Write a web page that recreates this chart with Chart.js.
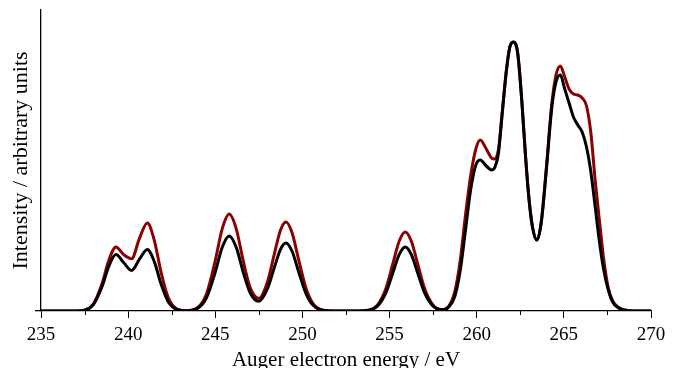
<!DOCTYPE html>
<html>
<head>
<meta charset="utf-8">
<script src="https://cdn.jsdelivr.net/npm/chart.js@4.4.1/dist/chart.umd.min.js"></script>
<style>
  html, body { margin: 0; padding: 0; background: #fff; }
  #wrap { width: 680px; height: 368px; }
</style>
</head>
<body>
<div id="wrap"><canvas id="c" width="680" height="368"></canvas></div>
<script>
// ── DATA (intensity in arbitrary units, 0 = baseline) ──
const energy = [235, 236, 237, 237.5, 238, 238.5, 238.9, 239.3, 239.75, 240.2, 240.65, 241.1, 241.5, 241.9, 242.3, 242.8, 243.3,
  244, 244.5, 245, 245.4, 245.8, 246.2, 246.6, 247, 247.5, 248, 248.4, 248.75, 249.05, 249.4, 249.8, 250.2, 250.6, 251.2,
  252, 253, 253.8, 254.3, 254.8, 255.2, 255.55, 255.9, 256.25, 256.6, 257, 257.5, 258, 258.4, 258.75, 259.05, 259.35,
  259.65, 259.95, 260.2, 260.55, 260.85, 261.05, 261.25, 261.45, 261.7, 261.9, 262.1, 262.35, 262.6, 262.8, 263, 263.2,
  263.45, 263.7, 264, 264.3, 264.55, 264.8, 265.05, 265.3, 265.55, 265.8, 266.05, 266.3, 266.55, 266.8, 267.05, 267.3,
  267.55, 267.8, 268.1, 268.5, 269, 270];

const blackSpec = [0, 0, 0.1, 0.8, 6.2, 24.2, 45.2, 56.4, 48.2, 40.6, 51.8, 61.5, 49.4, 26.4, 9.3, 1.4, 0.2,
  2.8, 13.4, 39, 63.7, 75, 63.7, 39, 18.3, 9.7, 22.6, 44.2, 62, 68, 60, 38.3, 17.6, 5.9, 0.6,
  0, 0, 0.7, 4.7, 18.6, 38.8, 56.4, 64, 56.4, 38.8, 18.6, 4.7, 1.2, 4, 15, 40, 80,
  121, 146, 151, 145, 141, 144, 158, 195, 240, 264, 269, 258, 207, 155, 112, 84,
  71, 88, 142, 202, 229, 236, 222, 208, 194, 186, 179, 164, 139, 104, 68, 40,
  21, 9, 3.5, 0.8, 0, 0];

const redSpec = [0, 0, 0.1, 0.9, 7, 27.3, 51.1, 64, 56.3, 52.3, 72.7, 88, 70.7, 37.9, 13.4, 2, 0.3,
  3.6, 17.3, 50.4, 82.4, 97, 82.4, 50.4, 23.5, 12.7, 29.6, 57.9, 81.2, 89, 78.5, 50.1, 23.1, 7.7, 0.8,
  0, 0, 0.9, 5.8, 23, 48, 69.7, 79, 69.7, 48, 23, 5.8, 1.5, 5, 20, 50, 95,
  135, 162, 171, 162, 153, 152, 162, 196, 240, 264, 269, 258, 207, 155, 112, 84,
  71, 89, 144, 206, 236, 245, 234, 222, 217, 216, 213, 205, 178, 130, 89, 50,
  23, 10, 4, 1, 0, 0];

const majorTicks = [235, 240, 245, 250, 255, 260, 265, 270];
const minorTicks = [237.5, 242.5, 247.5, 252.5, 257.5, 262.5, 267.5];

const SERIF = "'Liberation Serif', 'Times New Roman', serif";

// short ticks between the labelled ones
const minorTickPlugin = {
  id: 'minorTicks',
  afterDraw(chart) {
    const s = chart.scales.x, ctx = chart.ctx;
    ctx.save();
    ctx.strokeStyle = '#000'; ctx.lineWidth = 1;
    minorTicks.forEach(v => {
      const px = Math.round(s.getPixelForValue(v)) + 0.5;
      ctx.beginPath(); ctx.moveTo(px, s.top); ctx.lineTo(px, s.top + 4); ctx.stroke();
    });
    ctx.restore();
  }
};

const pts = arr => energy.map((x, i) => ({ x, y: arr[i] }));

new Chart(document.getElementById('c'), {
  type: 'line',
  data: {
    datasets: [
      { data: pts(blackSpec), borderColor: '#000', borderWidth: 3, pointRadius: 0, cubicInterpolationMode: 'monotone', fill: false },
      { data: pts(redSpec), borderColor: '#8b0000', borderWidth: 3, pointRadius: 0, cubicInterpolationMode: 'monotone', fill: false },
    ]
  },
  options: {
    responsive: false, animation: false, events: [],
    layout: { padding: { left: 0, right: 29, top: 10, bottom: 0 } },
    plugins: { legend: { display: false }, tooltip: { enabled: false } },
    scales: {
      x: {
        type: 'linear', min: 235, max: 270,
        afterBuildTicks: s => { s.ticks = majorTicks.map(v => ({ value: v })); },
        afterFit: s => { s.height = 57; },
        ticks: { color: '#000', font: { family: SERIF, size: 19 }, padding: 6, maxRotation: 0, autoSkip: false },
        grid: { drawOnChartArea: false, drawTicks: true, tickLength: 7, color: '#000', lineWidth: 1 },
        border: { color: '#000', width: 1.3 },
        title: { display: true, text: 'Auger electron energy / eV', color: '#000',
                 font: { family: SERIF, size: 21, lineHeight: 1 }, padding: { top: 0, bottom: -3 } }
      },
      y: {
        min: 0, max: 301,
        afterBuildTicks: s => { s.ticks = [{ value: 0 }]; },
        afterFit: s => { s.width = 41; },
        ticks: { display: false },
        grid: { drawOnChartArea: false, drawTicks: true, tickLength: 6, color: '#000', lineWidth: 1.3 },
        border: { color: '#000', width: 1.3 },
        title: { display: true, text: 'Intensity / arbitrary units', color: '#000',
                 font: { family: SERIF, size: 22, lineHeight: 1 }, padding: { top: 10, bottom: 0 } }
      }
    }
  },
  plugins: [minorTickPlugin]
});
</script>
</body>
</html>
